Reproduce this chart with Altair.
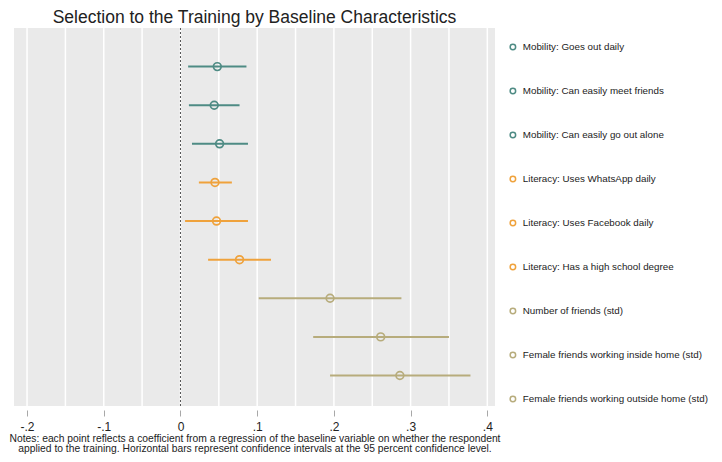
import altair as alt
import pandas as pd

labels = [
    "Mobility: Goes out daily",
    "Mobility: Can easily meet friends",
    "Mobility: Can easily go out alone",
    "Literacy: Uses WhatsApp daily",
    "Literacy: Uses Facebook daily",
    "Literacy: Has a high school degree",
    "Number of friends (std)",
    "Female friends working inside home (std)",
    "Female friends working outside home (std)",
]
estimates = [0.048, 0.044, 0.051, 0.045, 0.047, 0.077, 0.195, 0.261, 0.286]
ci_low = [0.010, 0.011, 0.015, 0.024, 0.006, 0.036, 0.102, 0.173, 0.195]
ci_high = [0.086, 0.077, 0.088, 0.067, 0.088, 0.118, 0.288, 0.350, 0.378]
colors = ["#4e8b84", "#4e8b84", "#4e8b84",
          "#efa23c", "#efa23c", "#efa23c",
          "#b7ac7c", "#b7ac7c", "#b7ac7c"]
tick_values = [-0.2, -0.1, 0, 0.1, 0.2, 0.3, 0.4]
grid_values = [-0.2, -0.15, -0.1, -0.05, 0, 0.05, 0.1, 0.15, 0.2, 0.25, 0.3, 0.35, 0.4]
ref_values = [0]
notes = [
    "Notes: each point reflects a coefficient from a regression of the baseline variable on whether the respondent",
    "applied to the training. Horizontal bars represent confidence intervals at the 95 percent confidence level.",
]

df = pd.DataFrame({
    "label": labels,
    "est": estimates,
    "lo": ci_low,
    "hi": ci_high,
    "idx": list(range(1, len(labels) + 1)),
})
grid_df = pd.DataFrame({"g": grid_values})
ref_df = pd.DataFrame({"r": ref_values})

FONT = "Liberation Sans"
xscale = alt.Scale(domain=[-0.217, 0.41], nice=False, zero=False)
yscale = alt.Scale(domain=[0, 9.79], reverse=True, nice=False, zero=False)
cscale = alt.Scale(domain=labels, range=colors)

grid = alt.Chart(grid_df).mark_rule(color="white", strokeWidth=1.5).encode(
    x=alt.X("g:Q", scale=xscale,
            axis=alt.Axis(values=tick_values, grid=False, domain=False,
                          tickColor="#a8a8a8", tickSize=6, offset=4,
                          labelExpr="datum.value == 0 ? '0' : (datum.value < 0 ? '-.' : '.') + round(abs(datum.value) * 10)",
                          labelFontSize=12, labelFont=FONT, labelColor="#222222",
                          labelPadding=5,
                          title=notes, titleFontSize=10.3, titleFont=FONT,
                          titleFontWeight="normal", titleColor="#222222",
                          titlePadding=1, titleLineHeight=10))
)

zero = alt.Chart(ref_df).mark_rule(color="#555555", strokeWidth=1, strokeDash=[2, 2]).encode(
    x=alt.X("r:Q", scale=xscale)
)

bars = alt.Chart(df).mark_rule(strokeWidth=2).encode(
    x=alt.X("lo:Q", scale=xscale),
    x2="hi:Q",
    y=alt.Y("idx:Q", scale=yscale, axis=None),
    color=alt.Color("label:N", scale=cscale, legend=None),
)

points = alt.Chart(df).mark_point(filled=False, size=60, strokeWidth=1.7, opacity=1).encode(
    x=alt.X("est:Q", scale=xscale),
    y=alt.Y("idx:Q", scale=yscale, axis=None),
    color=alt.Color("label:N", scale=cscale,
                    legend=alt.Legend(title=None, orient="none", legendX=494, legendY=14,
                                      symbolType="circle", symbolSize=30,
                                      symbolStrokeWidth=1.5, rowPadding=32,
                                      labelFontSize=9.8, labelFont=FONT,
                                      labelColor="#222222", labelLimit=400,
                                      labelOffset=5, padding=0)),
)

chart = alt.layer(grid, zero, bars, points).resolve_scale(
    color="independent"
).properties(
    width=481,
    height=378,
    autosize=alt.AutoSizeParams(type="none"),
    padding={"left": 6, "top": 20, "right": 219, "bottom": 48},
    title=alt.TitleParams("Selection to the Training by Baseline Characteristics",
                          fontSize=17.5, font=FONT, fontWeight="normal",
                          color="#222222", anchor="middle", offset=1),
).configure_view(fill="#eaeaea", strokeWidth=0)

chart.save("out.html", embed_options={"renderer": "svg", "actions": False})
